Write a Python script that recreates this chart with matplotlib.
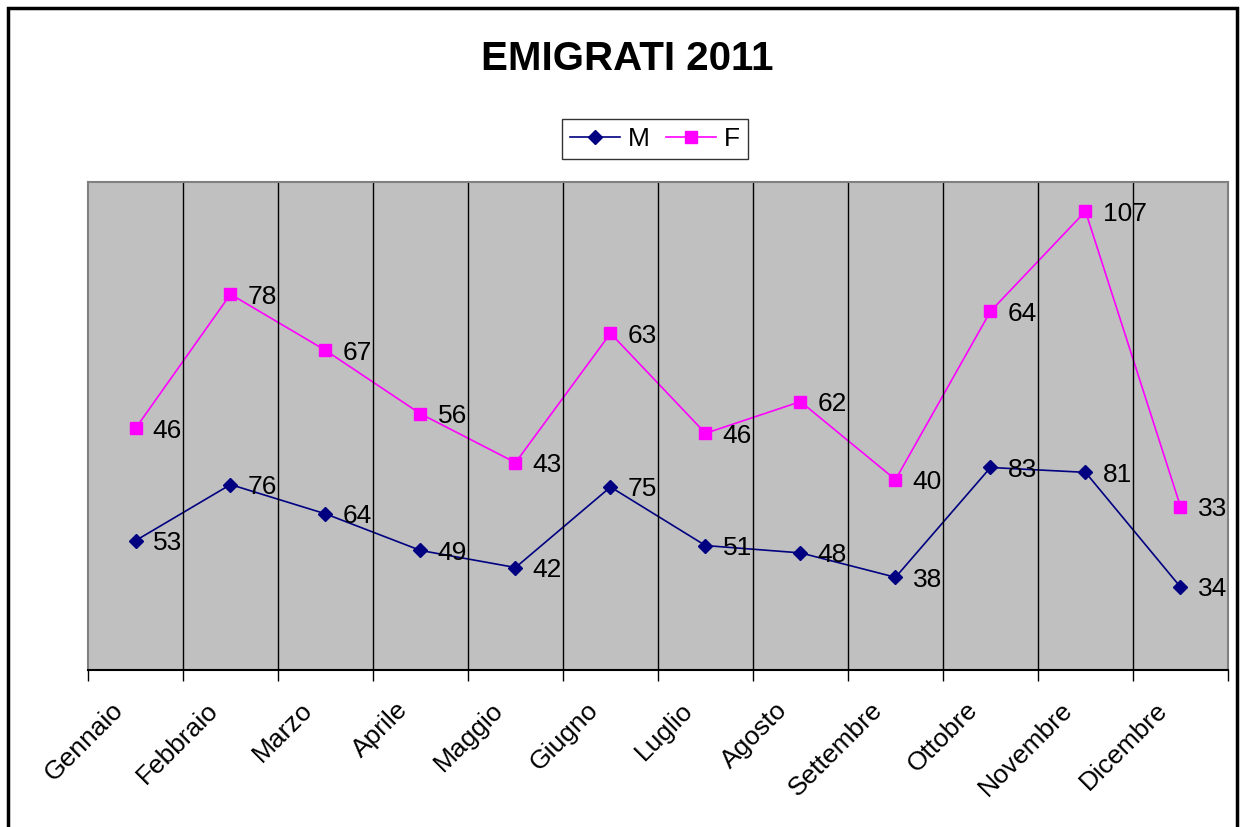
import matplotlib.pyplot as plt
import numpy as np
from matplotlib.patches import Rectangle
from matplotlib.transforms import ScaledTranslation

plt.rcParams['font.family'] = ['Liberation Sans', 'DejaVu Sans']

# dati
mesi = ['Gennaio', 'Febbraio', 'Marzo', 'Aprile', 'Maggio', 'Giugno',
        'Luglio', 'Agosto', 'Settembre', 'Ottobre', 'Novembre', 'Dicembre']
maschi = [53, 76, 64, 49, 42, 75, 51, 48, 38, 83, 81, 34]
femmine = [46, 78, 67, 56, 43, 63, 46, 62, 40, 64, 107, 33]

fig = plt.figure(figsize=(12.44, 8.27), dpi=100)
ax = fig.add_axes([88 / 1244, 1 - 670 / 827, 1140 / 1244, 488 / 827])

# cornice esterna
fig.patches.append(Rectangle((8 / 1244, -0.05), 1229 / 1244, 1.05 - 8 / 827,
                             transform=fig.transFigure, fill=False,
                             edgecolor='black', linewidth=2.5))

x = np.arange(len(mesi)) + 0.5
m = np.array(maschi)
f_stack = m + np.array(femmine)  # linee in pila

ax.set_facecolor('#c0c0c0')
ax.plot(x, m, color='#000080', marker='D', markersize=7, linewidth=1.2, label='M')
ax.plot(x, f_stack, color='#ff00ff', marker='s', markersize=8, linewidth=1.2, label='F')

for xi, yi, v in zip(x, m, maschi):
    ax.text(xi + 0.18, yi - 1, str(v), fontsize=19, va='center', ha='left')
for xi, yi, v in zip(x, f_stack, femmine):
    ax.text(xi + 0.18, yi - 1, str(v), fontsize=19, va='center', ha='left')

ax.set_xlim(0, 12)
ax.set_ylim(0, 200)
ax.set_yticks([])
ax.set_xticks(np.arange(13))
ax.set_xticklabels([])
ax.tick_params(axis='x', which='major', length=8, width=1, color='black')
ax.set_xticks(x, minor=True)
ax.set_xticklabels(mesi, minor=True, rotation=45, ha='right', va='top',
                   rotation_mode='anchor', fontsize=19)
ax.tick_params(axis='x', which='minor', length=0, pad=20)
shift = ScaledTranslation(-25 / 100, 0, fig.dpi_scale_trans)
for lab in ax.get_xticklabels(minor=True):
    lab.set_transform(lab.get_transform() + shift)
for b in range(1, 12):
    ax.axvline(b, color='black', linewidth=1)

for s in ['top', 'right', 'left']:
    ax.spines[s].set_color('#808080')
    ax.spines[s].set_linewidth(1.5)
ax.spines['bottom'].set_color('black')
ax.spines['bottom'].set_linewidth(1.5)

fig.text(627 / 1244, 1 - 59 / 827, 'EMIGRATI 2011', ha='center', va='center',
         fontsize=29, fontweight='bold')

leg = fig.legend(loc='center', bbox_to_anchor=(655 / 1244, 1 - 139 / 827), ncol=2,
                 fontsize=19, frameon=True, fancybox=False, edgecolor='black',
                 handlelength=1.9, columnspacing=0.6, handletextpad=0.3,
                 borderpad=0.3)
leg.get_frame().set_linewidth(1)

fig.savefig('out.png', dpi=100, facecolor='white')
